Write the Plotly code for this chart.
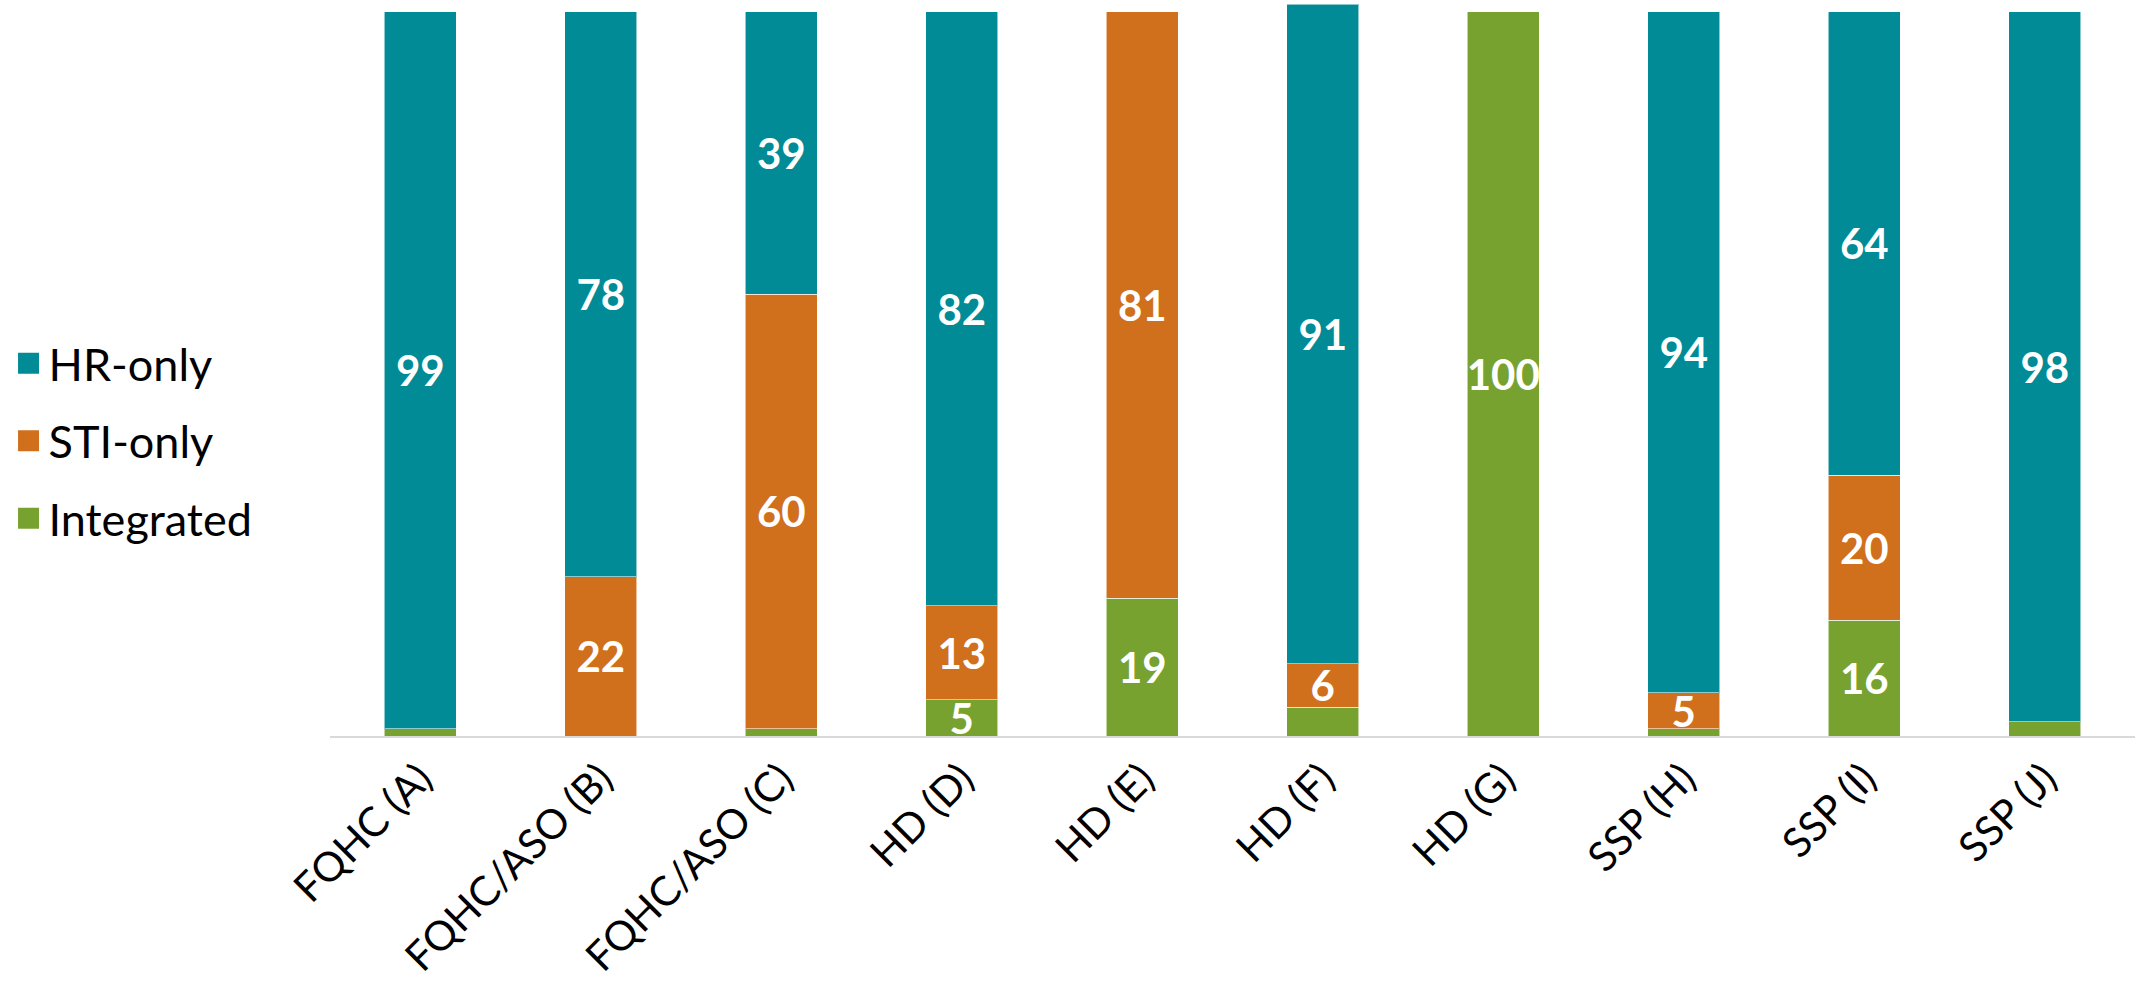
import plotly.graph_objects as go

categories = ["FQHC (A)", "FQHC/ASO (B)", "FQHC/ASO (C)", "HD (D)", "HD (E)",
              "HD (F)", "HD (G)", "SSP (H)", "SSP (I)", "SSP (J)"]
integrated = [1, 0, 1, 5, 19, 4, 100, 1, 16, 2]
sti_only = [0, 22, 60, 13, 81, 6, 0, 5, 20, 0]
hr_only = [99, 78, 39, 82, 0, 91, 0, 94, 64, 98]

series = [
    ("Integrated", integrated, "#78A22F"),
    ("STI-only", sti_only, "#D0701D"),
    ("HR-only", hr_only, "#008B96"),
]

FONT = "Lato"

fig = go.Figure()
for name, vals, color in series:
    fig.add_trace(go.Bar(
        x=categories, y=vals, name=name,
        marker=dict(color=color, line=dict(color="rgba(255,255,255,0.55)", width=1)),
        text=[str(v) if v >= 5 else "" for v in vals],
        textposition="inside", insidetextanchor="middle", textangle=0,
        constraintext="none",
        textfont=dict(family=FONT, size=42, color="white", weight="bold"),
        showlegend=False, hoverinfo="skip",
    ))

# legend entries (larger square swatches), HR-only on top
for name, vals, color in reversed(series):
    fig.add_trace(go.Scatter(
        x=[None], y=[None], mode="markers", name=name,
        legendgroup=name,
        marker=dict(symbol="square", size=16, color=color,
                    line=dict(color=color, width=5)),
    ))

fig.update_layout(
    width=2136, height=990, autosize=False,
    margin=dict(l=330, r=1, t=0, b=254, pad=0),
    barmode="stack", bargap=0.6,
    plot_bgcolor="white", paper_bgcolor="white",
    font=dict(family=FONT, color="black"),
    uniformtext=dict(mode=False),
    legend=dict(
        xref="container", yref="container",
        x=0.004, y=1 - 441 / 990, xanchor="left", yanchor="middle",
        traceorder="grouped", tracegroupgap=16,
        font=dict(family=FONT, size=45, color="black"),
        itemsizing="trace", bgcolor="rgba(0,0,0,0)",
    ),
    xaxis=dict(
        showline=True, linecolor="#D9D9D9", linewidth=2,
        ticks="", tickangle=-45, showgrid=False, automargin=False,
        tickfont=dict(family=FONT, size=41, color="black"),
    ),
    yaxis=dict(range=[0, 101.6], visible=False, showgrid=False,
               zeroline=False, automargin=False),
)

fig.write_html("out.html")
